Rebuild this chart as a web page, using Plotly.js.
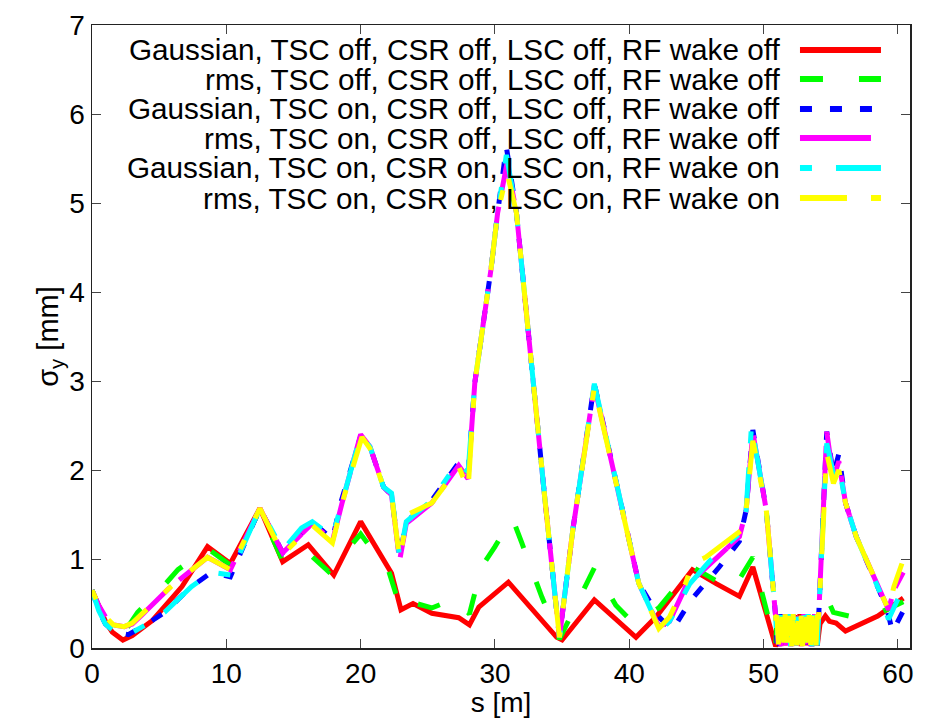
<!DOCTYPE html>
<html>
<head>
<meta charset="utf-8">
<script src="https://cdn.plot.ly/plotly-3.0.1.min.js"></script>
<style>html,body{margin:0;padding:0;background:#fff;}#chart{width:944px;height:718px;}</style>
</head>
<body>
<div id="chart"></div>
<script>
// ---- Data ----
const seriesNames = [
  "Gaussian, TSC off, CSR off, LSC off, RF wake off",
  "rms, TSC off, CSR off, LSC off, RF wake off",
  "Gaussian, TSC on, CSR off, LSC off, RF wake off",
  "rms, TSC on, CSR off, LSC off, RF wake off",
  "Gaussian, TSC on, CSR on, LSC on, RF wake on",
  "rms, TSC on, CSR on, LSC on, RF wake on"
];

// noisy section between s = 51 m and 54 m
const s_band = [51.0, 51.1, 51.2, 51.3, 51.4, 51.5, 51.6, 51.7, 51.8, 51.9, 52.0, 52.1, 52.2, 52.3, 52.4, 52.5, 52.6, 52.7, 52.8, 52.9, 53.0, 53.1, 53.2, 53.3, 53.4, 53.5, 53.6, 53.7, 53.8, 53.9, 54.0];
const y_bandA = [0.05, 0.36, 0.02, 0.38, 0.08, 0.35, 0.03, 0.37, 0.06, 0.38, 0.02, 0.36, 0.07, 0.37, 0.03, 0.35, 0.04, 0.38, 0.02, 0.36, 0.06, 0.37, 0.03, 0.38, 0.05, 0.35, 0.02, 0.37, 0.06, 0.36, 0.03];
const y_bandB = [0.36, 0.04, 0.37, 0.02, 0.35, 0.06, 0.38, 0.03, 0.36, 0.05, 0.37, 0.02, 0.38, 0.04, 0.35, 0.03, 0.37, 0.05, 0.36, 0.02, 0.38, 0.04, 0.35, 0.06, 0.37, 0.02, 0.36, 0.05, 0.38, 0.03, 0.35];

const s_red_a = [0, 0.5, 1.0, 1.5, 2.3, 3.0, 4.5, 6.7, 8.6, 10.3, 12.5, 14.2, 16.1, 18.0, 20.0, 22.3, 23.0, 23.9, 25.3, 27.3, 28.1, 28.8, 31.0, 34.6, 35.0, 37.4, 40.5, 42.0, 44.7, 46.5, 48.2, 49.2, 50.9];
const y_red_a = [0.65, 0.46, 0.30, 0.18, 0.09, 0.14, 0.31, 0.69, 1.14, 0.95, 1.57, 0.97, 1.16, 0.82, 1.42, 0.84, 0.43, 0.50, 0.39, 0.34, 0.26, 0.46, 0.74, 0.12, 0.09, 0.54, 0.12, 0.35, 0.88, 0.72, 0.58, 0.91, 0.02];
const s_red_b = [54.2, 54.6, 54.9, 55.4, 56.1, 58.5, 60.4];
const y_red_b = [0.27, 0.36, 0.30, 0.28, 0.19, 0.36, 0.56];

const s_green_a = [0, 0.5, 1.0, 1.6, 2.5, 3.4, 5.0, 6.4, 8.6, 10.4, 12.5, 14.2, 16.0, 17.6, 20.0, 22.1, 23.0, 23.9, 25.3, 27.1, 28.1, 29.0, 30.0, 31.3, 32.0, 33.5, 34.8, 37.4, 39.0, 40.3, 42.2, 44.7, 47.7, 49.2, 50.9];
const y_green_a = [0.65, 0.47, 0.33, 0.24, 0.20, 0.40, 0.64, 0.88, 1.12, 0.92, 1.55, 0.98, 1.08, 0.86, 1.28, 0.86, 0.43, 0.51, 0.45, 0.56, 0.38, 0.91, 1.14, 1.46, 1.18, 0.57, 0.10, 0.90, 0.48, 0.28, 0.45, 0.91, 0.65, 1.02, 0.02];
const s_green_b = [54.2, 54.7, 55.2, 56.9, 58.3, 60.4];
const y_green_b = [0.30, 0.57, 0.40, 0.34, 0.37, 0.52];

const s_blue_a = [0, 0.5, 1.0, 1.7, 2.7, 4.0, 5.4, 7.4, 8.9, 10.3, 12.5, 14.2, 16.4, 17.9, 18.5, 20.0, 20.7, 21.7, 22.3, 22.9, 23.4, 25.3, 27.3, 28.0, 28.5, 29.0, 29.7, 30.2, 30.85, 31.6, 32.7, 33.7, 34.8, 35.8, 37.4, 39.5, 40.7, 42.2, 43.2, 44.6, 46.7, 48.2, 48.7, 49.2, 50.2, 50.9];
const y_blue_a = [0.65, 0.42, 0.27, 0.18, 0.15, 0.26, 0.40, 0.69, 0.85, 0.80, 1.57, 1.07, 1.42, 1.22, 1.62, 2.38, 2.26, 1.81, 1.72, 1.02, 1.42, 1.66, 2.08, 1.96, 2.98, 3.50, 4.25, 4.89, 5.63, 4.89, 3.20, 1.70, 0.12, 1.33, 2.97, 1.55, 0.73, 0.35, 0.20, 0.54, 0.91, 1.20, 1.55, 2.45, 1.55, 0.35];
const s_blue_b = [54.1, 54.7, 55.2, 55.6, 56.1, 56.9, 58.6, 59.2, 59.6, 60.5];
const y_blue_b = [0.35, 2.43, 1.95, 2.18, 1.63, 1.25, 0.65, 0.43, 0.18, 0.45];

const s_mag_a = [0, 0.5, 1.0, 1.6, 2.4, 3.0, 3.7, 5.8, 8.6, 10.3, 12.5, 14.2, 16.4, 17.9, 18.6, 20.0, 20.7, 21.7, 22.3, 22.9, 23.4, 25.3, 27.3, 28.0, 28.5, 29.0, 29.7, 30.2, 30.9, 31.6, 32.7, 33.7, 34.8, 35.8, 37.4, 39.5, 40.7, 42.2, 43.0, 44.2, 46.0, 48.2, 48.7, 49.2, 50.2, 50.9];
const y_mag_a = [0.65, 0.48, 0.35, 0.26, 0.24, 0.27, 0.37, 0.68, 1.02, 0.88, 1.57, 1.07, 1.40, 1.20, 1.62, 2.40, 2.26, 1.81, 1.72, 0.98, 1.40, 1.63, 2.05, 1.90, 2.98, 3.50, 4.25, 4.89, 5.45, 4.89, 3.20, 1.70, 0.12, 1.33, 2.95, 1.55, 0.73, 0.24, 0.30, 0.69, 0.95, 1.25, 1.55, 2.42, 1.55, 0.35];
const s_mag_b = [54.1, 54.7, 55.2, 55.6, 56.1, 56.9, 58.6, 59.3, 59.7, 60.4];
const y_mag_b = [0.35, 2.43, 1.90, 2.10, 1.63, 1.25, 0.65, 0.43, 0.65, 0.85];

const s_cyan_a = [0, 0.5, 1.0, 1.7, 2.7, 4.0, 5.4, 7.4, 8.9, 10.3, 12.5, 14.2, 15.6, 16.4, 17.9, 18.7, 20.0, 20.7, 21.7, 22.3, 22.9, 23.4, 25.3, 27.2, 28.0, 28.5, 29.0, 29.7, 30.2, 30.85, 31.6, 32.7, 33.7, 34.8, 35.8, 37.4, 39.5, 40.7, 42.3, 43.0, 44.5, 46.0, 48.3, 48.7, 49.1, 50.2, 50.9];
const y_cyan_a = [0.65, 0.42, 0.27, 0.18, 0.15, 0.26, 0.40, 0.69, 0.85, 0.82, 1.57, 1.10, 1.35, 1.42, 1.25, 1.70, 2.39, 2.26, 1.81, 1.74, 1.02, 1.42, 1.66, 2.08, 1.98, 2.98, 3.50, 4.25, 4.89, 5.54, 4.89, 3.20, 1.70, 0.12, 1.33, 2.97, 1.55, 0.73, 0.20, 0.30, 0.72, 0.98, 1.30, 1.55, 2.50, 1.55, 0.35];
const s_cyan_b = [54.1, 54.7, 55.2, 55.6, 56.1, 56.9, 58.6, 59.3, 60.0];
const y_cyan_b = [0.35, 2.30, 1.95, 2.05, 1.63, 1.25, 0.65, 0.32, 0.55];

const s_yel_a = [0, 0.5, 1.0, 1.6, 2.4, 3.0, 3.7, 5.8, 8.6, 10.3, 12.5, 14.2, 16.4, 17.9, 18.8, 20.1, 20.7, 21.7, 22.3, 22.9, 23.5, 25.3, 27.3, 28.0, 28.5, 29.0, 29.7, 30.2, 30.9, 31.6, 32.7, 33.7, 34.8, 35.8, 37.4, 39.5, 40.7, 42.2, 43.0, 44.2, 44.7, 45.7, 48.4, 48.7, 49.2, 50.2, 50.9];
const y_yel_a = [0.65, 0.48, 0.35, 0.26, 0.24, 0.28, 0.38, 0.68, 1.02, 0.88, 1.57, 1.05, 1.38, 1.18, 1.72, 2.37, 2.24, 1.81, 1.72, 1.00, 1.50, 1.63, 2.04, 1.78, 2.98, 3.50, 4.25, 4.89, 5.34, 4.89, 3.20, 1.70, 0.12, 1.33, 2.93, 1.55, 0.73, 0.22, 0.35, 0.73, 0.95, 1.02, 1.33, 1.55, 2.33, 1.55, 0.35];
const s_yel_b = [54.1, 54.7, 55.2, 55.6, 56.1, 56.9, 58.6, 59.3, 59.7, 60.3];
const y_yel_b = [0.35, 2.19, 1.85, 2.00, 1.63, 1.25, 0.65, 0.43, 0.69, 0.95];

const xTicks = [0, 10, 20, 30, 40, 50, 60];
const yTicks = [0, 1, 2, 3, 4, 5, 6, 7];

// ---- Styles ----
const FONT = "'Liberation Sans', Arial, Helvetica, sans-serif";
const styles = [
  {color: "#ff0000", dash: "solid", keyDash: "solid"},
  {color: "#00ff00", dash: "23px,36px", keyDash: "23px,36px"},
  {color: "#0000ff", dash: "12px,18px", keyDash: "12px,18px"},
  {color: "#ff00ff", dash: "30px,12px,41px,0.1px", keyDash: "71px,12px"},
  {color: "#00ffff", dash: "45px,24px,12px,24px", keyDash: "12px,24px,45px,24px"},
  {color: "#ffff00", dash: "10px,24px,47px,24px", keyDash: "47px,24px,10px,24px"}
];
const LW = 5;

const seriesData = [
  [s_red_a.concat(s_band, s_red_b), y_red_a.concat(y_bandA, y_red_b)],
  [s_green_a.concat(s_band, s_green_b), y_green_a.concat(y_bandB, y_green_b)],
  [s_blue_a.concat(s_band, s_blue_b), y_blue_a.concat(y_bandA, y_blue_b)],
  [s_mag_a.concat(s_band, s_mag_b), y_mag_a.concat(y_bandB, y_mag_b)],
  [s_cyan_a.concat(s_band, s_cyan_b), y_cyan_a.concat(y_bandA, y_cyan_b)],
  [s_yel_a.concat(s_band, s_yel_b), y_yel_a.concat(y_bandB, y_yel_b)]
];

const traces = seriesData.map((d, i) => ({
  type: "scatter",
  mode: "lines",
  name: seriesNames[i],
  x: d[0],
  y: d[1],
  line: {color: styles[i].color, width: LW, dash: styles[i].dash, shape: "linear"},
  hoverinfo: "skip"
}));

// gnuplot-style key: right-aligned text with line sample on its right
const keyTextX = 0.8435, keyS0 = 0.8655, keyS1 = 0.9645;
const keyRowsY = [0.9599, 0.9133, 0.8652, 0.8186, 0.7705, 0.7223];
const annotations = seriesNames.map((t, i) => ({
  xref: "paper", yref: "paper", x: keyTextX, y: keyRowsY[i],
  xanchor: "right", yanchor: "middle", text: t, showarrow: false,
  font: {family: FONT, size: 29.7, color: "#000"}
}));
const shapes = seriesNames.map((t, i) => ({
  type: "line", xref: "paper", yref: "paper",
  x0: keyS0, x1: keyS1, y0: keyRowsY[i], y1: keyRowsY[i],
  line: {color: styles[i].color, width: 6, dash: styles[i].keyDash}
}));

const axisCommon = {
  ticks: "inside", ticklen: 9, tickwidth: 1, tickcolor: "#444",
  showline: true, linecolor: "#222", linewidth: 1.5, mirror: "allticks",
  showgrid: false, zeroline: false,
  tickfont: {family: FONT, size: 28, color: "#000"}
};

const layout = {
  width: 944, height: 718,
  margin: {l: 92, r: 34, t: 25, b: 70},
  paper_bgcolor: "#fff", plot_bgcolor: "#fff",
  showlegend: false,
  xaxis: Object.assign({}, axisCommon, {
    range: [0, 60.9], tickvals: xTicks, ticktext: xTicks.map(String),
    title: {text: "s [m]", font: {family: FONT, size: 28, color: "#000"}, standoff: 5}
  }),
  yaxis: Object.assign({}, axisCommon, {
    range: [0, 7], tickvals: yTicks, ticktext: yTicks.map(String),
    title: {text: "σ<sub>y</sub> [mm]", font: {family: FONT, size: 29, color: "#000"}, standoff: 2}
  }),
  annotations: annotations,
  shapes: shapes
};

Plotly.newPlot("chart", traces, layout, {staticPlot: true, displayModeBar: false});
</script>
</body>
</html>
